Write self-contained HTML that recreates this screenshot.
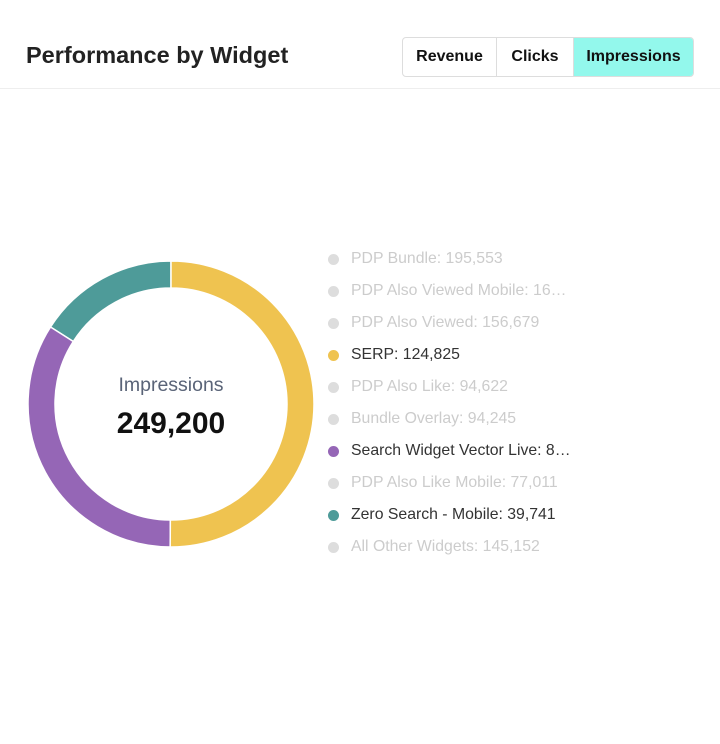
<!DOCTYPE html>
<html><head><meta charset="utf-8"><style>
body{margin:0;width:720px;height:744px;background:#fff;font-family:"Liberation Sans",sans-serif;position:relative;overflow:hidden}
.title{position:absolute;left:26px;top:42px;font-size:23.5px;font-weight:bold;color:#222}
.btns{position:absolute;left:402px;top:37px;height:38px;display:flex;border:1px solid #ddd;border-radius:4px;overflow:hidden}
.btn{font-size:16px;font-weight:bold;color:#111;display:flex;align-items:center;justify-content:center;border-right:1px solid #ddd;box-sizing:border-box}
.btn:last-child{border-right:none}
.hr{position:absolute;left:0;right:0;top:88px;height:1px;background:#eee}
.leg{position:absolute;left:328px;font-size:15.8px;display:flex;align-items:center;white-space:nowrap}
.dot{width:11px;height:11px;border-radius:50%;margin-right:12px}
</style></head><body>
<div class="title">Performance by Widget</div>
<div class="btns">
<div class="btn" style="width:94px">Revenue</div>
<div class="btn" style="width:77px">Clicks</div>
<div class="btn" style="width:119px;background:#93F8EC">Impressions</div>
</div>
<div class="hr"></div>
<svg id="donut" width="720" height="744" style="position:absolute;left:0;top:0">
<text x="171" y="391" text-anchor="middle" font-size="19.5" fill="#5a6478" font-family="Liberation Sans, sans-serif">Impressions</text>
<text x="171" y="433" text-anchor="middle" font-size="30" font-weight="bold" fill="#111" font-family="Liberation Sans, sans-serif">249,200</text>
</svg>
<div id="legend"></div>
<script>
const labels=["PDP Bundle: 195,553","PDP Also Viewed Mobile: 16…","PDP Also Viewed: 156,679","SERP: 124,825","PDP Also Like: 94,622","Bundle Overlay: 94,245","Search Widget Vector Live: 8…","PDP Also Like Mobile: 77,011","Zero Search - Mobile: 39,741","All Other Widgets: 145,152"];
const legendColors=["#ddd","#ddd","#ddd","#EFC350","#ddd","#ddd","#9566B6","#ddd","#4E9B99","#ddd"];
const sliceNames=["SERP","Search Widget Vector Live","Zero Search - Mobile"];
const sliceValues=[124825,84634,39741];
const sliceColors=["#EFC350","#9566B6","#4E9B99"];
const svg=document.getElementById('donut');
const cx=171,cy=404,R=143,r=116;
const total=sliceValues.reduce((a,b)=>a+b,0);
let a0=0;
function pt(rad,a){return [cx+rad*Math.sin(a),cy-rad*Math.cos(a)];}
sliceValues.forEach((v,i)=>{
 const a1=a0+v/total*2*Math.PI;const big=(a1-a0)>Math.PI?1:0;
 const p1=pt(R,a0),p2=pt(R,a1),p3=pt(r,a1),p4=pt(r,a0);
 const p=document.createElementNS('http://www.w3.org/2000/svg','path');
 p.setAttribute('d',`M${p1}A${R},${R} 0 ${big} 1 ${p2}L${p3}A${r},${r} 0 ${big} 0 ${p4}Z`);
 p.setAttribute('fill',sliceColors[i]);p.setAttribute('stroke','#fff');p.setAttribute('stroke-width','1.5');
 
 
 svg.insertBefore(p,svg.firstChild);a0=a1;
});
const lg=document.getElementById('legend');
labels.forEach((t,i)=>{
 const d=document.createElement('div');d.className='leg';d.style.top=(250+i*32)+'px';
 const on=legendColors[i]!=="#ddd";
 d.style.color=on?'#333':'#ccc';
 d.innerHTML=`<span class="dot" style="background:${legendColors[i]}"></span>${t}`;
 
 
 lg.appendChild(d);
});
</script>
</body></html>
